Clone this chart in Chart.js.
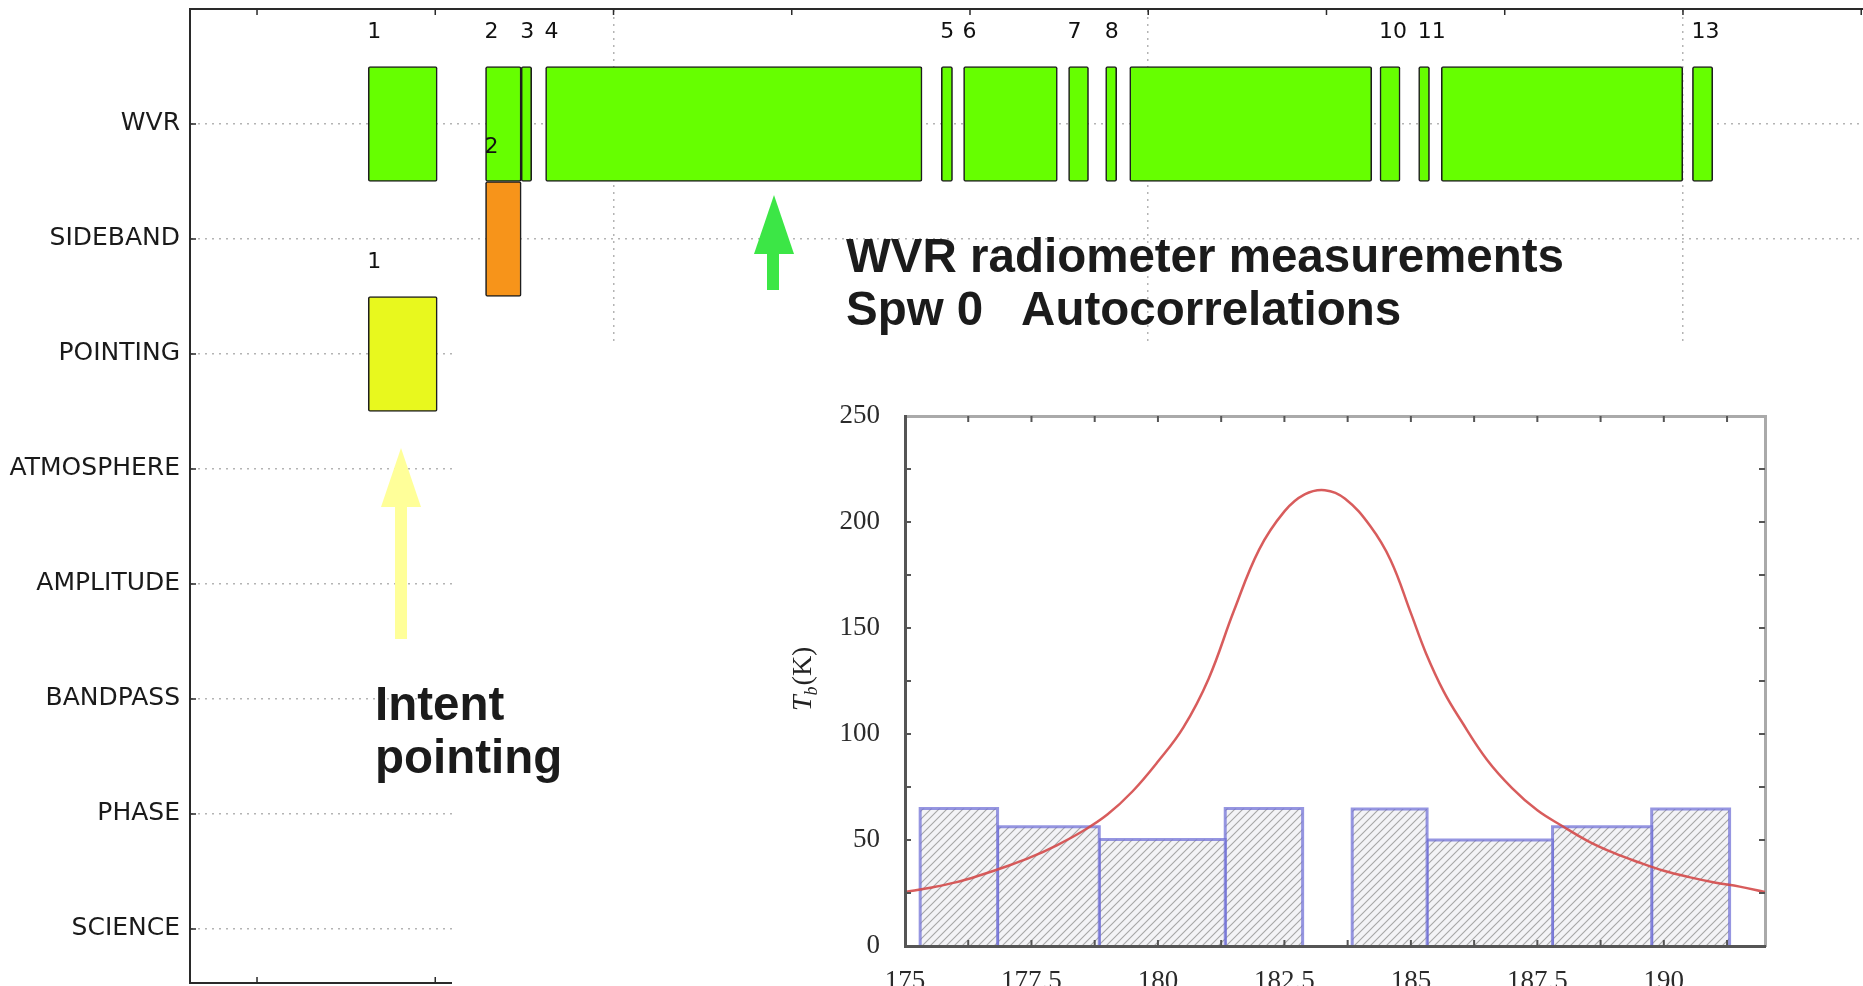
<!DOCTYPE html>
<html>
<head>
<meta charset="utf-8">
<title>WVR intents</title>
<script src="https://cdn.jsdelivr.net/npm/chart.js@4.4.0/dist/chart.umd.min.js"></script>
<style>
  html, body { margin: 0; padding: 0; background: #fff; overflow: hidden; }
  #stage { position: relative; width: 1863px; height: 986px; overflow: hidden; background: #fff; }
  #mainWrap { position: absolute; left: 0; top: 0; width: 1863px; height: 986px; }
  #cover { position: absolute; left: 452px; top: 345px; width: 1411px; height: 641px; background: #fff; }
  #insetWrap { position: absolute; left: 760px; top: 380px; width: 1103px; height: 630px; }
  .note {
    position: absolute;
    font-family: "Liberation Sans", Arial, sans-serif;
    font-weight: bold;
    font-size: 47.5px;
    line-height: 53px;
    color: #1b1b1b;
    white-space: pre;
  }
  #arrows { position: absolute; left: 0; top: 0; }
</style>
</head>
<body>
<div id="stage">
  <div id="mainWrap"><canvas id="mainChart"></canvas></div>
  <div id="cover"></div>
  <div id="insetWrap"><canvas id="insetChart"></canvas></div>
  <svg id="arrows" width="1863" height="986">
    <rect x="767" y="250" width="12" height="40" fill="#3ce646"/>
    <polygon points="754,254 794,254 774,195" fill="#3ce646"/>
    <rect x="395" y="505" width="12" height="134" fill="#ffff99"/>
    <polygon points="381,507 421,507 401,448" fill="#ffff99"/>
  </svg>
  <div class="note" style="left:846px; top:229px;">WVR radiometer measurements
Spw 0   Autocorrelations</div>
  <div class="note" style="left:375px; top:677px;">Intent
pointing</div>
</div>

<script>
Chart.defaults.font.family = '"DejaVu Sans", sans-serif';

// ---- main intent / scan plot ----
const intents = ["WVR", "SIDEBAND", "POINTING", "ATMOSPHERE", "AMPLITUDE", "BANDPASS", "PHASE", "SCIENCE"];
const timeTicks = [1, 2, 3, 4, 5, 6, 7, 8, 9, 10];

const wvrStarts = [1.624, 2.282, 2.482, 2.619, 4.839, 4.964, 5.553, 5.761, 5.896, 7.300, 7.517, 7.644, 9.053];
const wvrEnds = [2.011, 2.482, 2.541, 4.731, 4.902, 5.490, 5.665, 5.823, 7.254, 7.413, 7.578, 8.999, 9.167];
const wvrScans = ["1", "2", "3", "4", "5", "6", "7", "8", "", "10", "11", "", "13"];

const sidebandStarts = [2.282];
const sidebandEnds = [2.482];
const sidebandScans = ["2"];

const pointingStarts = [1.624];
const pointingEnds = [2.011];
const pointingScans = ["1"];

// ---- inset: 183 GHz line and WVR channels ----
const freqPoints = [175.0, 175.5, 176.0, 176.5, 177.0, 177.5, 178.0, 178.5, 179.0, 179.5, 180.0, 180.5, 181.0, 181.5, 182.0, 182.5, 182.9, 183.3, 183.7, 184.2, 184.6, 185.0, 185.3, 185.65, 186.0, 186.5, 187.0, 187.5, 188.0, 188.5, 189.0, 189.5, 190.0, 190.5, 191.0, 191.5, 192.0];
const tbValues = [25.5, 27.5, 30, 33.5, 37.5, 42, 47.5, 54, 62, 73, 87, 103, 126, 158, 187, 205, 213, 215, 211, 198, 182, 157, 138, 120, 106, 88, 74.5, 64, 56.5, 49.5, 44, 39.5, 35.5, 32.5, 30, 28, 25.5];

const binLow = [175.30, 176.83, 178.84, 181.33, 183.84, 185.32, 187.80, 189.76];
const binHigh = [176.83, 178.84, 181.33, 182.86, 185.32, 187.80, 189.76, 191.30];
const binTb = [64.8, 56.3, 50.2, 64.8, 64.6, 50.0, 56.3, 64.6];

const freqLabelTicks = [175, 177.5, 180, 182.5, 185, 187.5, 190];
const freqMinorTicks = [176.25, 177.5, 178.75, 180, 181.25, 182.5, 183.75, 185, 186.25, 187.5, 188.75, 190, 191.25];
const tbLabelTicks = [0, 50, 100, 150, 200, 250];
const tbMinorTicks = [25, 50, 75, 100, 125, 150, 175, 200, 225];

function intentDataset(row, starts, ends, scans, color) {
  return {
    data: starts.map((start, i) => ({ x: [start, ends[i]], y: row })),
    scanLabels: scans,
    backgroundColor: color,
    borderColor: "#1e1e1e",
    borderWidth: 1.6,
    borderSkipped: false,
    borderRadius: 2,
    grouped: false,
    barPercentage: 1,
    categoryPercentage: 1
  };
}

// vertical axes reserve half a label of padding by default, which shrinks the plot
function noEdgePadding(scale) {
  scale.paddingTop = 0;
  scale.paddingBottom = 0;
}

const scanLabelPlugin = {
  id: "scanLabels",
  afterDatasetsDraw(chart) {
    const { ctx } = chart;
    ctx.save();
    ctx.font = '22px "DejaVu Sans"';
    ctx.fillStyle = "#111";
    ctx.textAlign = "left";
    ctx.textBaseline = "middle";
    chart.data.datasets.forEach((dataset, di) => {
      chart.getDatasetMeta(di).data.forEach((bar, i) => {
        const text = dataset.scanLabels[i];
        if (!text) return;
        const { x, base, y, height } = bar.getProps(["x", "base", "y", "height"], true);
        ctx.fillText(text, Math.min(x, base) - 1, y - height / 2 - 34);
      });
    });
    ctx.restore();
  }
};

// matplotlib style ticks pointing into the plot
const mainTicksPlugin = {
  id: "mainTicks",
  afterDraw(chart) {
    const { ctx, chartArea, scales } = chart;
    ctx.save();
    ctx.strokeStyle = "#2a2a2a";
    ctx.lineWidth = 1.5;
    ctx.beginPath();
    timeTicks.forEach((v) => {
      const px = scales.x.getPixelForValue(v);
      ctx.moveTo(px, chartArea.top);
      ctx.lineTo(px, chartArea.top + 6);
      ctx.moveTo(px, chartArea.bottom);
      ctx.lineTo(px, chartArea.bottom - 6);
    });
    intents.forEach((_, i) => {
      const py = scales.y.getPixelForValue(i);
      ctx.moveTo(chartArea.left, py);
      ctx.lineTo(chartArea.left + 6, py);
    });
    ctx.stroke();
    ctx.restore();
  }
};

new Chart(document.getElementById("mainChart"), {
  type: "bar",
  data: {
    datasets: [
      intentDataset(0, wvrStarts, wvrEnds, wvrScans, "#66ff00"),
      intentDataset(1, sidebandStarts, sidebandEnds, sidebandScans, "#f7941a"),
      intentDataset(2, pointingStarts, pointingEnds, pointingScans, "#e8f81e")
    ]
  },
  options: {
    indexAxis: "y",
    responsive: true,
    maintainAspectRatio: false,
    animation: false,
    layout: { padding: 0 },
    plugins: { legend: { display: false }, tooltip: { enabled: false } },
    scales: {
      x: {
        type: "linear",
        position: "top",
        min: 0.624,
        max: 10.01,
        afterBuildTicks: (scale) => { scale.ticks = timeTicks.map((v) => ({ value: v })); },
        afterFit: (scale) => { scale.height = 9; },
        ticks: { display: false },
        grid: {
          drawTicks: false,
          lineWidth: 1.5,
          color: (ctx) => (ctx.tick && ctx.tick.value % 3 === 0 ? "#b4b4b4" : "rgba(0,0,0,0)")
        },
        border: { color: "#2a2a2a", width: 2, dash: [2, 5] }
      },
      x2: {
        type: "linear",
        axis: "x",
        position: "bottom",
        min: 0.624,
        max: 10.01,
        afterFit: (scale) => { scale.height = 3; },
        ticks: { display: false },
        grid: { display: false },
        border: { color: "#2a2a2a", width: 2 }
      },
      y: {
        type: "linear",
        reverse: true,
        offset: false,
        min: -1,
        max: 7.47,
        afterBuildTicks: (scale) => { scale.ticks = intents.map((_, i) => ({ value: i })); },
        afterFit: (scale) => { scale.width = 190; noEdgePadding(scale); },
        ticks: {
          autoSkip: false,
          padding: 10,
          color: "#1a1a1a",
          font: { family: '"DejaVu Sans"', size: 25 },
          callback: (value) => intents[value]
        },
        grid: { offset: false, drawTicks: false, lineWidth: 1.5, color: "#b4b4b4" },
        border: { color: "#2a2a2a", width: 2, dash: [2, 5] }
      }
    }
  },
  plugins: [scanLabelPlugin, mainTicksPlugin]
});

// ---- inset ----
function hatchPattern() {
  const tile = document.createElement("canvas");
  tile.width = 8;
  tile.height = 8;
  const g = tile.getContext("2d");
  g.fillStyle = "#f3f3f6";
  g.fillRect(0, 0, 8, 8);
  g.strokeStyle = "#a6a6a6";
  g.lineWidth = 1.1;
  g.beginPath();
  g.moveTo(0, 8); g.lineTo(8, 0);
  g.moveTo(-2, 2); g.lineTo(2, -2);
  g.moveTo(6, 10); g.lineTo(10, 6);
  g.stroke();
  return g.createPattern(tile, "repeat");
}

const hatch = hatchPattern();

const binDatasets = binLow.map((low, i) => ({
  data: [
    { x: low, y: 0 },
    { x: low, y: binTb[i] },
    { x: binHigh[i], y: binTb[i] },
    { x: binHigh[i], y: 0 }
  ],
  borderColor: "rgba(110,110,214,0.72)",
  borderWidth: 3,
  backgroundColor: hatch,
  fill: "origin",
  pointRadius: 0,
  tension: 0,
  order: 1
}));

const curveDataset = {
  data: freqPoints.map((f, i) => ({ x: f, y: tbValues[i] })),
  borderColor: "rgba(212,74,74,0.9)",
  borderWidth: 2.5,
  pointRadius: 0,
  fill: false,
  tension: 0.4,
  order: 0
};

const insetTicksPlugin = {
  id: "insetTicks",
  afterDraw(chart) {
    const { ctx, chartArea, scales } = chart;
    ctx.save();
    ctx.strokeStyle = "#555";
    ctx.lineWidth = 2;
    ctx.beginPath();
    freqMinorTicks.forEach((v) => {
      const px = scales.x.getPixelForValue(v);
      ctx.moveTo(px, chartArea.top);
      ctx.lineTo(px, chartArea.top + 6);
      ctx.moveTo(px, chartArea.bottom);
      ctx.lineTo(px, chartArea.bottom - 6);
    });
    tbMinorTicks.forEach((v) => {
      const py = scales.y.getPixelForValue(v);
      ctx.moveTo(chartArea.left, py);
      ctx.lineTo(chartArea.left + 6, py);
      ctx.moveTo(chartArea.right, py);
      ctx.lineTo(chartArea.right - 6, py);
    });
    ctx.stroke();

    // rotated axis title T_b(K)
    ctx.translate(chartArea.left - 103, (chartArea.top + chartArea.bottom) / 2 - 2);
    ctx.rotate(-Math.PI / 2);
    ctx.fillStyle = "#222";
    ctx.textBaseline = "alphabetic";
    ctx.textAlign = "left";
    let cx = -32;
    ctx.font = 'italic 28px "Liberation Serif"';
    ctx.fillText("T", cx, 9);
    cx += ctx.measureText("T").width;
    ctx.font = 'italic 18px "Liberation Serif"';
    ctx.fillText("b", cx, 15);
    cx += ctx.measureText("b").width + 1;
    ctx.font = '28px "Liberation Serif"';
    ctx.fillText("(K)", cx, 9);
    ctx.restore();
  }
};

const serifTicks = { family: '"Liberation Serif", serif', size: 27 };

new Chart(document.getElementById("insetChart"), {
  type: "line",
  data: { datasets: [curveDataset, ...binDatasets] },
  options: {
    responsive: true,
    maintainAspectRatio: false,
    animation: false,
    layout: { padding: 0 },
    plugins: { legend: { display: false }, tooltip: { enabled: false } },
    scales: {
      x: {
        type: "linear",
        position: "bottom",
        min: 175,
        max: 192,
        afterBuildTicks: (scale) => { scale.ticks = freqLabelTicks.map((v) => ({ value: v })); },
        afterFit: (scale) => { scale.height = 64; },
        ticks: { color: "#2b2b2b", font: serifTicks, padding: 20, maxRotation: 0, autoSkip: false, callback: (v) => String(v) },
        grid: { display: false, drawTicks: false },
        border: { color: "#555", width: 3, z: 1 }
      },
      xTop: {
        type: "linear",
        axis: "x",
        position: "top",
        min: 175,
        max: 192,
        afterFit: (scale) => { scale.height = 36; },
        ticks: { display: false },
        grid: { display: false },
        border: { color: "#aaa", width: 3 }
      },
      y: {
        type: "linear",
        min: 0,
        max: 250,
        afterBuildTicks: (scale) => { scale.ticks = tbLabelTicks.map((v) => ({ value: v })); },
        afterFit: (scale) => { scale.width = 145; noEdgePadding(scale); },
        ticks: { color: "#2b2b2b", font: serifTicks, padding: 25 },
        grid: { display: false, drawTicks: false },
        border: { color: "#555", width: 3, z: 1 }
      },
      yRight: {
        type: "linear",
        axis: "y",
        position: "right",
        min: 0,
        max: 250,
        afterFit: (scale) => { scale.width = 98; },
        ticks: { display: false },
        grid: { display: false },
        border: { color: "#aaa", width: 3 }
      }
    }
  },
  plugins: [insetTicksPlugin]
});
</script>
</body>
</html>
